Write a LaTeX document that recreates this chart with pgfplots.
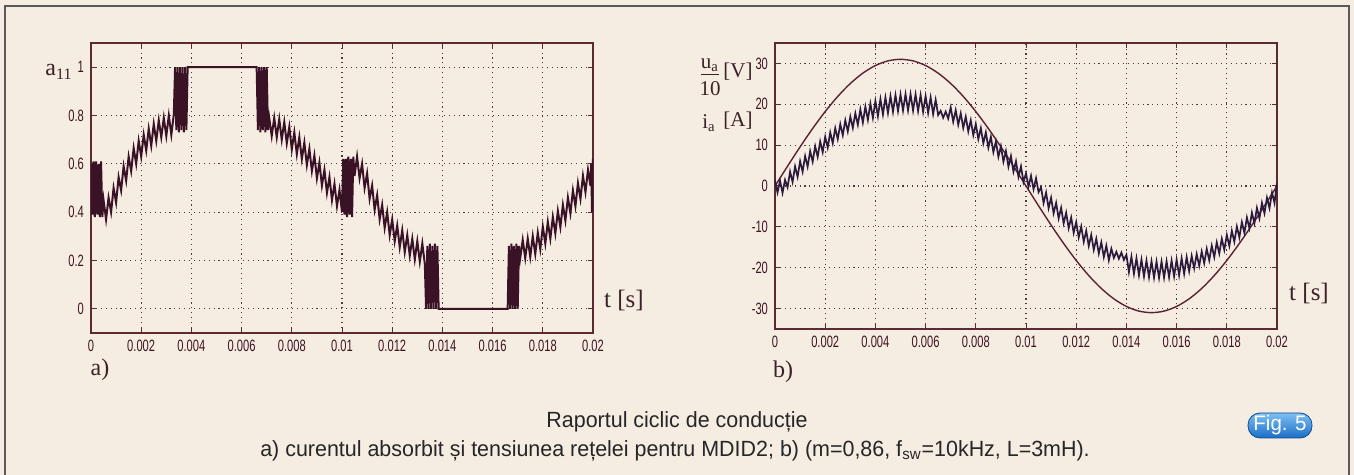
\documentclass[border=0pt]{standalone}
\usepackage{fontspec}
\setmainfont{Liberation Serif}
\newfontfamily\ticksf[FakeStretch=0.68]{Liberation Sans}
\newfontfamily\capsf[FakeStretch=0.975]{Liberation Sans}
\usepackage{pgfplots}
\pgfplotsset{compat=1.18}
\definecolor{paper}{HTML}{F5ECE2}
\definecolor{framec}{HTML}{5C2A32}
\definecolor{tickc}{HTML}{3E1420}
\definecolor{gridc}{HTML}{4E3840}
\definecolor{lineA}{HTML}{3A1226}
\definecolor{lineI}{HTML}{2A1A3C}
\definecolor{lineU}{HTML}{5A2232}
\definecolor{labc}{HTML}{3A2228}
\definecolor{figtop}{HTML}{7EC0F0}
\definecolor{figbot}{HTML}{1A6CC8}
\pgfplotsset{mat/.style={
  scale only axis,
  axis line style={framec, line width=0.55pt},
  tick style={framec, line width=0.5pt},
  tick align=inside, major tick length=2.5pt,
  xtick pos=both, ytick pos=both,
  grid=major,
  major grid style={gridc, line width=0.55pt, dash pattern=on 0.55pt off 1.9pt},
  ticklabel style={font=\ticksf\fontsize{8.2}{9}\selectfont, text=tickc},
  scaled ticks=false,
  xmin=0, xmax=0.02,
  xtick={0,0.002,0.004,0.006,0.008,0.01,0.012,0.014,0.016,0.018,0.02},
  xticklabels={0,0.002,0.004,0.006,0.008,0.01,0.012,0.014,0.016,0.018,0.02},
  axis background/.style={fill=paper},
}}
\begin{document}
\begin{tikzpicture}
\fill[paper] (0,0) rectangle (677pt,237.5pt);
\useasboundingbox (0,0) rectangle (677pt,237.5pt);
\draw[black!65, line width=1pt] (2.5pt,0) -- (2.5pt,234.5pt) -- (674.5pt,234.5pt) -- (674.5pt,0);

\begin{axis}[mat, at={(45.5pt,71pt)}, anchor=south west, width=251pt, height=145pt,
  ymin=-0.1, ymax=1.1,
  ytick={0,0.2,0.4,0.6,0.8,1}, yticklabels={0,0.2,0.4,0.6,0.8,1}]
\addplot[lineA, line width=1.0pt] coordinates {
(0,0.60)(0.00005,0.39)(0.0001,0.61)(0.00015,0.38)(0.0002,0.61)(0.00025,0.39)(0.0003,0.60)(0.00035,0.38)(0.0004,0.61)(0.00045,0.38)(0.0005,0.45)
(0.0006,0.37)(0.0007,0.46)(0.0008,0.40)(0.0009,0.50)(0.0010,0.44)(0.0011,0.545)(0.0012,0.49)(0.0013,0.59)(0.0014,0.53)(0.0015,0.63)(0.0016,0.57)(0.0017,0.665)(0.0018,0.60)(0.0019,0.695)(0.0020,0.63)(0.0021,0.72)(0.0022,0.655)(0.0023,0.745)(0.0024,0.675)(0.0025,0.765)(0.0026,0.695)(0.0027,0.78)(0.0028,0.71)(0.0029,0.79)(0.0030,0.715)(0.0031,0.80)(0.0032,0.72)(0.0033,0.805)
(0.00335,1.0)(0.0034,0.74)(0.00345,1.0)(0.0035,0.73)(0.00355,1.0)(0.0036,0.74)(0.00365,1.0)(0.0037,0.73)(0.00375,1.0)(0.0038,0.74)(0.00385,1.0)
(0.0066,1.0)
(0.00665,0.74)(0.0067,1.0)(0.00675,0.73)(0.0068,1.0)(0.00685,0.74)(0.0069,1.0)(0.00695,0.73)(0.0070,1.0)(0.00705,0.74)(0.0071,0.79)
(0.0072,0.715)(0.0073,0.79)(0.0074,0.71)(0.0075,0.785)(0.0076,0.70)(0.0077,0.773)(0.0078,0.685)(0.0079,0.753)(0.0080,0.66)(0.0081,0.73)(0.0082,0.64)(0.0083,0.71)(0.0084,0.62)(0.0085,0.688)(0.0086,0.595)(0.0087,0.662)(0.0088,0.57)(0.0089,0.635)(0.0090,0.54)(0.0091,0.605)(0.0092,0.51)(0.0093,0.575)(0.0094,0.48)(0.0095,0.545)(0.0096,0.45)(0.0097,0.517)(0.0098,0.425)(0.0099,0.492)(0.0100,0.40)
(0.01005,0.62)(0.0101,0.39)(0.01015,0.62)(0.0102,0.38)(0.01025,0.63)(0.0103,0.39)(0.01035,0.62)(0.0104,0.38)(0.01045,0.63)(0.0105,0.55)
(0.0106,0.63)(0.0107,0.54)(0.0108,0.60)(0.0109,0.50)(0.0110,0.56)(0.0111,0.455)(0.0112,0.51)(0.0113,0.41)(0.0114,0.47)(0.0115,0.37)(0.0116,0.43)(0.0117,0.335)(0.0118,0.40)(0.0119,0.305)(0.0120,0.37)(0.0121,0.28)(0.0122,0.345)(0.0123,0.255)(0.0124,0.325)(0.0125,0.235)(0.0126,0.305)(0.0127,0.22)(0.0128,0.29)(0.0129,0.205)(0.0130,0.28)(0.0131,0.195)(0.0132,0.27)(0.0133,0.185)
(0.01335,0)(0.0134,0.26)(0.01345,0)(0.0135,0.27)(0.01355,0)(0.0136,0.26)(0.01365,0)(0.0137,0.27)(0.01375,0)(0.0138,0.26)(0.01385,0)
(0.0166,0)
(0.01665,0.26)(0.0167,0)(0.01675,0.27)(0.0168,0)(0.01685,0.26)(0.0169,0)(0.01695,0.27)(0.0170,0)(0.01705,0.26)(0.0171,0.21)
(0.0172,0.285)(0.0173,0.21)(0.0174,0.29)(0.0175,0.215)(0.0176,0.30)(0.0177,0.227)(0.0178,0.315)(0.0179,0.247)(0.0180,0.34)(0.0181,0.27)(0.0182,0.36)(0.0183,0.29)(0.0184,0.38)(0.0185,0.312)(0.0186,0.405)(0.0187,0.338)(0.0188,0.43)(0.0189,0.365)(0.0190,0.46)(0.0191,0.395)(0.0192,0.49)(0.0193,0.425)(0.0194,0.52)(0.0195,0.455)(0.0196,0.55)(0.0197,0.483)(0.0198,0.575)(0.0199,0.508)(0.01993,0.60)(0.01996,0.40)(0.0200,0.62)
};
\end{axis}

\begin{axis}[mat, at={(387.5pt,73pt)}, anchor=south west, width=251pt, height=143pt,
  ymin=-35, ymax=35,
  ytick={-30,-20,-10,0,10,20,30}, yticklabels={-30,-20,-10,0,10,20,30}]
\addplot[lineU, line width=0.7pt, smooth] coordinates {
(0,0)(0.0005,4.85)(0.001,9.58)(0.0015,14.07)(0.002,18.22)(0.0025,21.92)(0.003,25.08)(0.0035,27.62)(0.004,29.48)(0.0045,30.62)(0.005,31.0)(0.0055,30.62)(0.006,29.48)(0.0065,27.62)(0.007,25.08)(0.0075,21.92)(0.008,18.22)(0.0085,14.07)(0.009,9.58)(0.0095,4.85)(0.01,0)
(0.0105,-4.85)(0.011,-9.58)(0.0115,-14.07)(0.012,-18.22)(0.0125,-21.92)(0.013,-25.08)(0.0135,-27.62)(0.014,-29.48)(0.0145,-30.62)(0.015,-31.0)(0.0155,-30.62)(0.016,-29.48)(0.0165,-27.62)(0.017,-25.08)(0.0175,-21.92)(0.018,-18.22)(0.0185,-14.07)(0.019,-9.58)(0.0195,-4.85)(0.02,0)
};
\addplot[lineI, line width=0.85pt] coordinates {
(0,1.4)(0.0001,-1.6)(0.0002,1.3)(0.0003,-1.7)(0.0004,1.5)(0.0005,-0.31)(0.0006,3.53)(0.0007,0.97)(0.0008,4.81)(0.0009,2.24)
(0.0010,6.07)(0.0011,3.50)(0.0012,7.32)(0.0013,4.73)(0.0014,8.54)(0.0015,5.95)(0.0016,9.74)(0.0017,7.13)(0.0018,10.91)(0.0019,8.28)
(0.0020,12.03)(0.0021,9.38)(0.0022,13.12)(0.0023,10.45)(0.0024,14.16)(0.0025,11.47)(0.0026,15.16)(0.0027,12.43)(0.0028,16.10)(0.0029,13.34)
(0.0030,16.98)(0.0031,14.20)(0.0032,17.80)(0.0033,14.98)(0.0034,18.76)(0.0035,15.51)(0.0036,19.44)(0.0037,16.16)(0.0038,20.17)(0.0039,16.65)
(0.0040,20.81)(0.0041,17.06)(0.0042,21.29)(0.0043,17.50)(0.0044,21.69)(0.0045,17.86)(0.0046,22.01)(0.0047,18.14)(0.0048,22.25)(0.0049,18.34)
(0.0050,22.41)(0.0051,18.46)(0.0052,22.49)(0.0053,18.50)(0.0054,22.49)(0.0055,18.46)(0.0056,22.41)(0.0057,18.34)(0.0058,22.25)(0.0059,18.14)
(0.0060,22.01)(0.0061,17.86)(0.0062,21.69)(0.0063,17.60)(0.0064,21.09)(0.0065,17.36)(0.0066,18.4)(0.0067,16.7)(0.0068,18.2)(0.0069,16.5)
(0.0070,19.24)(0.0071,15.71)(0.0072,18.56)(0.0073,14.98)(0.0074,17.80)(0.0075,14.20)(0.0076,16.98)(0.0077,13.34)(0.0078,16.10)(0.0079,12.43)
(0.0080,15.16)(0.0081,11.47)(0.0082,14.16)(0.0083,10.45)(0.0084,13.12)(0.0085,9.38)(0.0086,12.03)(0.0087,8.28)(0.0088,10.91)(0.0089,7.13)
(0.0090,9.74)(0.0091,5.95)(0.0092,8.54)(0.0093,4.73)(0.0094,7.32)(0.0095,3.50)(0.0096,6.07)(0.0097,2.24)(0.0098,4.81)(0.0099,0.97)
(0.0100,3.1)(0.0101,-0.2)(0.0102,2.5)(0.0103,-0.8)(0.0104,1.9)(0.0105,-1.5)(0.0106,-0.33)(0.0107,-4.17)(0.0108,-1.61)(0.0109,-5.44)
(0.0110,-2.87)(0.0111,-6.70)(0.0112,-4.12)(0.0113,-7.93)(0.0114,-5.34)(0.0115,-9.15)(0.0116,-6.54)(0.0117,-10.33)(0.0118,-7.71)(0.0119,-11.48)
(0.0120,-8.83)(0.0121,-12.58)(0.0122,-9.92)(0.0123,-13.65)(0.0124,-10.96)(0.0125,-14.67)(0.0126,-11.96)(0.0127,-15.63)(0.0128,-12.90)(0.0129,-16.54)
(0.0130,-13.78)(0.0131,-17.40)(0.0132,-14.60)(0.0133,-18.18)(0.0134,-15.36)(0.0135,-17.6)(0.0136,-16.1)(0.0137,-17.8)(0.0138,-16.3)(0.0139,-18.1)
(0.0140,-16.81)(0.0141,-21.06)(0.0142,-17.29)(0.0143,-21.50)(0.0144,-17.69)(0.0145,-21.86)(0.0146,-18.01)(0.0147,-22.14)(0.0148,-18.25)(0.0149,-22.34)
(0.0150,-18.41)(0.0151,-22.46)(0.0152,-18.49)(0.0153,-22.50)(0.0154,-18.49)(0.0155,-22.46)(0.0156,-18.41)(0.0157,-22.34)(0.0158,-18.25)(0.0159,-22.14)
(0.0160,-18.01)(0.0161,-21.86)(0.0162,-17.69)(0.0163,-21.50)(0.0164,-17.39)(0.0165,-20.86)(0.0166,-17.11)(0.0167,-20.15)(0.0168,-16.67)(0.0169,-19.56)
(0.0170,-16.04)(0.0171,-18.91)(0.0172,-15.36)(0.0173,-18.18)(0.0174,-14.60)(0.0175,-17.40)(0.0176,-13.78)(0.0177,-16.54)(0.0178,-12.90)(0.0179,-15.63)
(0.0180,-11.96)(0.0181,-14.67)(0.0182,-10.96)(0.0183,-13.65)(0.0184,-9.92)(0.0185,-12.58)(0.0186,-8.83)(0.0187,-11.48)(0.0188,-7.71)(0.0189,-10.33)
(0.0190,-6.54)(0.0191,-9.15)(0.0192,-5.34)(0.0193,-7.93)(0.0194,-4.12)(0.0195,-6.70)(0.0196,-2.87)(0.0197,-5.44)(0.0198,-1.61)(0.0199,-4.17)(0.0200,0.8)
};
\end{axis}

% axis labels
\node[font=\fontsize{12}{14}\selectfont, text=labc] at (29.5pt,201.5pt) {a\textsubscript{11}};
\node[font=\fontsize{12.5}{14}\selectfont, text=labc] at (312pt,87pt) {t [s]};
\node[font=\fontsize{12.5}{14}\selectfont, text=labc] at (654.5pt,90.5pt) {t [s]};
\node[font=\fontsize{12}{14}\selectfont, text=labc] at (50pt,52.5pt) {a)};
\node[font=\fontsize{12}{14}\selectfont, text=labc] at (391.5pt,51.5pt) {b)};
\node[font=\fontsize{10.5}{12.5}\selectfont, text=labc, inner sep=0pt] at (355pt,199pt) {\begin{tabular}{@{}c@{}}\underline{u\textsubscript{a}}\\[1pt]10\end{tabular}};
\node[font=\fontsize{10.5}{12.5}\selectfont, text=labc] at (369pt,201.5pt) {[V]};
\node[font=\fontsize{10.5}{12.5}\selectfont, text=labc] at (354.5pt,176pt) {i\textsubscript{a}};
\node[font=\fontsize{10.5}{12.5}\selectfont, text=labc] at (369pt,177pt) {[A]};

% caption
\node[font=\capsf\fontsize{11}{13}\selectfont, text=black!85] at (338.5pt,26.5pt) {Raportul ciclic de conducție};
\node[font=\capsf\fontsize{11}{13}\selectfont, text=black!85] at (337.5pt,12pt) {a) curentul absorbit și tensiunea rețelei pentru MDID2; b) (m=0,86, f\textsubscript{sw}=10kHz, L=3mH).};
\node[top color=figtop, bottom color=figbot, draw=figbot!70!black, line width=0.4pt, rounded corners=6pt, text=white,
  font=\capsf\fontsize{10.5}{12}\selectfont, minimum width=32pt, minimum height=12.5pt, inner sep=0.5pt] at (640pt,24.75pt) {Fig. 5};
\end{tikzpicture}
\end{document}
